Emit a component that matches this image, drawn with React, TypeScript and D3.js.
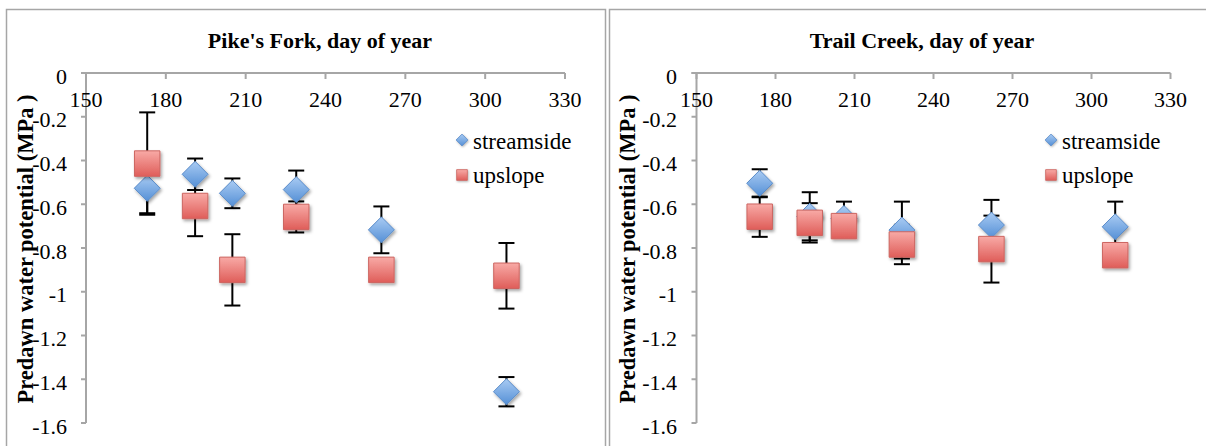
import React from 'react';
import * as d3 from 'd3';

const W = 1206;
const H = 446;

const xTicks = [150, 180, 210, 240, 270, 300, 330];
const yTicks = [0, -0.2, -0.4, -0.6, -0.8, -1, -1.2, -1.4, -1.6];
const yTickLabels = ['0', '-0.2', '-0.4', '-0.6', '-0.8', '-1', '-1.2', '-1.4', '-1.6'];
const seriesNames = ['streamside', 'upslope'];

// Pike's Fork
const pikeDays = [173, 191, 205, 229, 261, 308];
const pikeStream = [-0.527, -0.463, -0.55, -0.533, -0.717, -1.457];
const pikeStreamErr = [0.114, 0.072, 0.068, 0.087, 0.107, 0.067];
const pikeUp = [-0.414, -0.608, -0.9, -0.658, -0.9, -0.927];
const pikeUpErr = [0.234, 0.138, 0.163, 0.071, 0.02, 0.15];

// Trail Creek
const trailDays = [174, 193, 206, 228, 262, 309];
const trailStream = [-0.504, -0.655, -0.665, -0.718, -0.695, -0.703];
const trailStreamErr = [0.064, 0.11, 0.077, 0.13, 0.115, 0.115];
const trailUp = [-0.657, -0.685, -0.7, -0.784, -0.805, -0.833];
const trailUpErr = [0.092, 0.09, 0.02, 0.09, 0.153, 0.02];

const FONT = '"Liberation Serif", "Times New Roman", serif';

const diamondType = {
  draw(ctx: any, size: number) {
    const r = Math.sqrt(size / 2);
    ctx.moveTo(0, -r);
    ctx.lineTo(r, 0);
    ctx.lineTo(0, r);
    ctx.lineTo(-r, 0);
    ctx.closePath();
  },
};

const diamondPath = d3.symbol().type(diamondType as any).size(338)() as string;
const squarePath = d3.symbol().type(d3.symbolSquare).size(650)() as string;
const legDiamond = d3.symbol().type(diamondType as any).size(70)() as string;
const legSquare = d3.symbol().type(d3.symbolSquare).size(115)() as string;

interface PanelProps {
  title: string;
  days: number[];
  stream: number[];
  streamErr: number[];
  up: number[];
  upErr: number[];
  xr: [number, number];
  titleX: number;
  ylabX: number;
  tickLabelX: number;
  legX: number;
}

function Panel(p: PanelProps) {
  const x = d3.scaleLinear().domain([150, 330]).range(p.xr);
  const y = d3.scaleLinear().domain([0, -1.6]).range([73, 423]);
  const x0 = p.xr[0];
  const axisColor = '#a6a6a6';
  const errBar = (d: number, v: number, e: number, key: string) => {
    const cx = x(d);
    const yt = y(v + e);
    const yb = y(v - e);
    return (
      <g key={key} stroke="#000" strokeWidth={2}>
        <line x1={cx} x2={cx} y1={yt} y2={yb} />
        <line x1={cx - 8} x2={cx + 8} y1={yt} y2={yt} />
        <line x1={cx - 8} x2={cx + 8} y1={yb} y2={yb} />
      </g>
    );
  };
  return (
    <g>
      <text x={p.titleX} y={48} textAnchor="middle" fontFamily={FONT} fontWeight="bold" fontSize={22}>
        {p.title}
      </text>
      {/* y axis */}
      <line x1={x0} x2={x0} y1={y(0)} y2={y(-1.6)} stroke={axisColor} strokeWidth={2} />
      {yTicks.map((t, i) => (
        <g key={'yt' + i}>
          <line x1={x0 - 5} x2={x0} y1={y(t)} y2={y(t)} stroke={axisColor} strokeWidth={2} />
          <text x={p.tickLabelX} y={y(t) + 10.5} textAnchor="end" fontFamily={FONT} fontSize={22}>
            {yTickLabels[i]}
          </text>
        </g>
      ))}
      {/* x axis */}
      <line x1={x0 - 5} x2={x(330)} y1={y(0)} y2={y(0)} stroke={axisColor} strokeWidth={2} />
      {xTicks.map((t, i) => (
        <g key={'xt' + i}>
          <line x1={x(t)} x2={x(t)} y1={y(0)} y2={y(0) + 6} stroke={axisColor} strokeWidth={2} />
          <text x={x(t)} y={107} textAnchor="middle" fontFamily={FONT} fontSize={22}>
            {t}
          </text>
        </g>
      ))}
      <text
        transform={`translate(${p.ylabX},249) rotate(-90)`}
        textAnchor="middle"
        fontFamily={FONT}
        fontWeight="bold"
        fontSize={22.5}
      >
        Predawn water potential (MPa )
      </text>
      {/* error bars */}
      {p.days.map((d, i) => errBar(d, p.stream[i], p.streamErr[i], 'es' + i))}
      {p.days.map((d, i) => errBar(d, p.up[i], p.upErr[i], 'eu' + i))}
      {/* markers */}
      {p.days.map((d, i) => (
        <path
          key={'ms' + i}
          d={diamondPath}
          transform={`translate(${x(d)},${y(p.stream[i])})`}
          fill="url(#gBlue)"
          stroke="#5a8cc9"
          strokeWidth={1}
          filter="url(#shadow)"
        />
      ))}
      {p.days.map((d, i) => (
        <path
          key={'mu' + i}
          d={squarePath}
          transform={`translate(${x(d)},${y(p.up[i])})`}
          fill="url(#gRed)"
          stroke="#cc6560"
          strokeWidth={1}
          filter="url(#shadow)"
        />
      ))}
      {/* legend */}
      <path d={legDiamond} transform={`translate(${p.legX},140)`} fill="url(#gBlue)" stroke="#5a8cc9" strokeWidth={0.8} filter="url(#shadowS)" />
      <text x={p.legX + 11} y={148.5} fontFamily={FONT} fontSize={23}>
        {seriesNames[0]}
      </text>
      <path d={legSquare} transform={`translate(${p.legX},175)`} fill="url(#gRed)" stroke="#cc6560" strokeWidth={0.8} filter="url(#shadowS)" />
      <text x={p.legX + 11} y={183} fontFamily={FONT} fontSize={23}>
        {seriesNames[1]}
      </text>
    </g>
  );
}

export default function App() {
  return (
    <svg
      width={W}
      height={H}
      style={{ position: 'absolute', left: 0, top: 0, background: '#fff' }}
    >
      <defs>
        <linearGradient id="gBlue" x1="0" y1="0" x2="0" y2="1">
          <stop offset="0" stopColor="#a9cbf3" />
          <stop offset="1" stopColor="#5590d6" />
        </linearGradient>
        <linearGradient id="gRed" x1="0" y1="0" x2="0" y2="1">
          <stop offset="0" stopColor="#f8aaa6" />
          <stop offset="1" stopColor="#df5d59" />
        </linearGradient>
        <filter id="shadow" x="-30%" y="-30%" width="170%" height="170%">
          <feDropShadow dx={1.5} dy={2} stdDeviation={1.6} floodColor="#000" floodOpacity={0.35} />
        </filter>
        <filter id="shadowS" x="-40%" y="-40%" width="190%" height="190%">
          <feDropShadow dx={0.8} dy={1} stdDeviation={0.8} floodColor="#000" floodOpacity={0.3} />
        </filter>
      </defs>
      <rect width={W} height={H} fill="#fff" />
      <rect x={6.5} y={9.5} width={599} height={460} fill="none" stroke="#a6a6a6" strokeWidth={1.5} />
      <rect x={609.5} y={9.5} width={620} height={460} fill="none" stroke="#a6a6a6" strokeWidth={1.5} />
      <Panel
        title="Pike's Fork, day of year"
        days={pikeDays}
        stream={pikeStream}
        streamErr={pikeStreamErr}
        up={pikeUp}
        upErr={pikeUpErr}
        xr={[86, 565]}
        titleX={320}
        ylabX={33}
        tickLabelX={67}
        legX={462}
      />
      <Panel
        title="Trail Creek, day of year"
        days={trailDays}
        stream={trailStream}
        streamErr={trailStreamErr}
        up={trailUp}
        upErr={trailUpErr}
        xr={[696.5, 1170.5]}
        titleX={922}
        ylabX={635}
        tickLabelX={677}
        legX={1051}
      />
    </svg>
  );
}
